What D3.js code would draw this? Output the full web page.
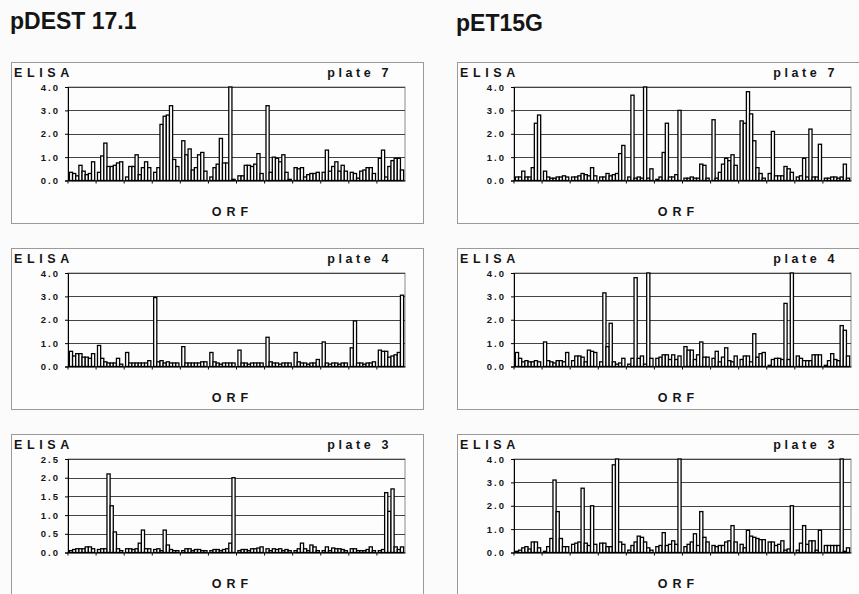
<!DOCTYPE html>
<html>
<head>
<meta charset="utf-8">
<script src="https://cdn.jsdelivr.net/npm/d3@7/dist/d3.min.js"></script>
<style>
  body { margin: 0; background: #fbfbfb; }
  text { font-family: "Liberation Sans", Arial, sans-serif; font-weight: bold; fill: #151515; }
</style>
</head>
<body>
<div id="chart"></div>
<script>
// Column titles, plate labels and well layout (12 columns x 8 rows per plate)
const columnTitles = ["pDEST 17.1", "pET15G"];
const plateLabels = ["plate 7", "plate 4", "plate 3"];
const wellColumns = ["1", "2", "3", "4", "5", "6", "7", "8", "9", "10", "11", "12"];
const wellRows = ["A", "B", "C", "D", "E", "F", "G", "H"];
const ticksTo4 = [0, 1, 2, 3, 4];
const ticksTo25 = [0, 0.5, 1, 1.5, 2, 2.5];

// ELISA readings, one inner array per plate column (rows A..H)
const pdestPlate7 = [
  [0.35, 0.3, 0.2, 0.65, 0.4, 0.25, 0.3, 0.8],
  [0.35, 1.05, 1.6, 0.6, 0.6, 0.65, 0.75, 0.8],
  [0.15, 0.6, 0.6, 1.1, 0.25, 0.55, 0.8, 0.55],
  [0.35, 0.55, 2.4, 2.75, 2.8, 3.2, 0.9, 0.6],
  [1.7, 1.1, 1.35, 0.45, 0.55, 1.1, 1.2, 0.4],
  [0.15, 0.55, 0.7, 1.8, 0.75, 0.75, 4.0, 0.05],
  [0.2, 0.2, 0.65, 0.65, 0.6, 0.7, 1.15, 0.3],
  [3.2, 0.35, 1.0, 0.95, 0.8, 1.1, 0.35, 0.05],
  [0.55, 0.5, 0.55, 0.15, 0.25, 0.3, 0.3, 0.35],
  [0.35, 1.3, 0.4, 0.6, 0.8, 0.4, 0.65, 0.4],
  [0.35, 0.3, 0.1, 0.4, 0.45, 0.55, 0.55, 0.3],
  [0.95, 1.3, 0.15, 0.6, 0.85, 0.95, 0.95, 0.45]
];
const petPlate7 = [
  [0.15, 0.15, 0.4, 0.15, 0.15, 0.55, 2.45, 2.8],
  [0.4, 0.15, 0.1, 0.1, 0.15, 0.15, 0.2, 0.15],
  [0.15, 0.15, 0.2, 0.3, 0.25, 0.2, 0.55, 0.2],
  [0.15, 0.15, 0.3, 0.2, 0.25, 0.3, 1.15, 1.5],
  [0.15, 3.65, 0.1, 0.15, 0.1, 4.0, 0.1, 0.5],
  [0.05, 0.15, 1.2, 2.45, 0.15, 0.15, 0.25, 3.0],
  [0.1, 0.1, 0.15, 0.1, 0.1, 0.7, 0.65, 0.1],
  [2.6, 0.1, 0.35, 0.7, 0.95, 0.85, 1.1, 0.65],
  [2.55, 2.45, 3.8, 2.85, 1.7, 0.55, 0.3, 0.1],
  [0.3, 2.1, 0.2, 0.2, 0.2, 0.6, 0.5, 0.35],
  [0.15, 0.2, 0.95, 0.15, 2.2, 0.15, 0.15, 1.55],
  [0.1, 0.1, 0.15, 0.15, 0.1, 0.15, 0.7, 0.1]
];
const pdestPlate4 = [
  [0.65, 0.45, 0.55, 0.55, 0.4, 0.4, 0.35, 0.55],
  [0.9, 0.35, 0.2, 0.15, 0.15, 0.15, 0.35, 0.1],
  [0.6, 0.15, 0.15, 0.15, 0.15, 0.15, 0.15, 0.25],
  [2.95, 0.2, 0.25, 0.15, 0.2, 0.15, 0.15, 0.15],
  [0.85, 0.15, 0.15, 0.15, 0.15, 0.15, 0.2, 0.2],
  [0.6, 0.2, 0.15, 0.1, 0.15, 0.15, 0.15, 0.15],
  [0.7, 0.15, 0.15, 0.1, 0.15, 0.15, 0.15, 0.15],
  [1.25, 0.2, 0.15, 0.15, 0.1, 0.15, 0.15, 0.15],
  [0.6, 0.2, 0.15, 0.15, 0.1, 0.15, 0.15, 0.3],
  [1.05, 0.15, 0.1, 0.15, 0.15, 0.1, 0.15, 0.15],
  [0.8, 1.95, 0.15, 0.15, 0.1, 0.15, 0.15, 0.2],
  [0.7, 0.65, 0.65, 0.4, 0.45, 0.5, 0.6, 3.05]
];
const petPlate4 = [
  [0.6, 0.35, 0.2, 0.25, 0.2, 0.2, 0.25, 0.2],
  [1.05, 0.25, 0.2, 0.15, 0.25, 0.25, 0.2, 0.6],
  [0.25, 0.45, 0.45, 0.4, 0.2, 0.7, 0.65, 0.6],
  [0.2, 3.15, 0.85, 1.85, 0.2, 0.1, 0.15, 0.35],
  [0.1, 0.35, 3.8, 0.35, 0.45, 0.1, 4.0, 0.35],
  [0.35, 0.4, 0.5, 0.5, 0.3, 0.5, 0.3, 0.45],
  [0.85, 0.7, 0.7, 0.3, 0.5, 1.05, 0.4, 0.4],
  [0.35, 0.65, 0.2, 0.4, 0.8, 0.25, 0.2, 0.45],
  [0.3, 0.45, 0.45, 0.2, 1.4, 0.4, 0.55, 0.6],
  [0.05, 0.3, 0.35, 0.35, 0.3, 2.7, 0.3, 4.0],
  [0.45, 0.35, 0.25, 0.25, 0.25, 0.5, 0.5, 0.5],
  [0.05, 0.25, 0.55, 0.3, 0.25, 1.75, 1.55, 0.45]
];
const pdestPlate3 = [
  [0.05, 0.08, 0.1, 0.1, 0.1, 0.15, 0.15, 0.1],
  [0.08, 0.1, 0.1, 2.1, 1.25, 0.55, 0.1, 0.05],
  [0.1, 0.1, 0.08, 0.1, 0.25, 0.6, 0.1, 0.1],
  [0.08, 0.1, 0.05, 0.6, 0.2, 0.08, 0.05, 0.05],
  [0.05, 0.1, 0.1, 0.05, 0.08, 0.08, 0.05, 0.05],
  [0.05, 0.08, 0.08, 0.05, 0.08, 0.1, 0.25, 2.0],
  [0.05, 0.08, 0.08, 0.05, 0.1, 0.1, 0.12, 0.15],
  [0.1, 0.05, 0.1, 0.08, 0.1, 0.05, 0.08, 0.05],
  [0.05, 0.1, 0.25, 0.1, 0.05, 0.2, 0.15, 0.05],
  [0.05, 0.15, 0.05, 0.12, 0.1, 0.1, 0.08, 0.05],
  [0.1, 0.1, 0.05, 0.05, 0.05, 0.08, 0.15, 0.05],
  [0.05, 0.08, 1.6, 1.1, 1.7, 0.15, 0.08, 0.15]
];
const petPlate3 = [
  [0.05, 0.1, 0.2, 0.25, 0.15, 0.45, 0.45, 0.2],
  [0.05, 0.25, 0.6, 3.1, 1.75, 0.6, 0.25, 0.25],
  [0.35, 0.4, 0.45, 2.75, 0.4, 0.3, 2.0, 0.35],
  [0.4, 0.4, 0.25, 0.25, 3.75, 4.0, 0.45, 0.35],
  [0.1, 0.3, 0.45, 0.7, 0.65, 0.45, 0.2, 0.1],
  [0.25, 0.3, 0.85, 0.3, 0.35, 0.5, 0.35, 4.0],
  [0.25, 0.35, 0.45, 0.8, 0.3, 1.75, 0.65, 0.45],
  [0.3, 0.25, 0.3, 0.3, 0.45, 0.5, 1.15, 0.45],
  [0.35, 0.2, 0.95, 0.7, 0.65, 0.6, 0.55, 0.55],
  [0.45, 0.45, 0.3, 0.35, 0.5, 0.1, 0.15, 2.0],
  [0.1, 0.4, 1.15, 0.35, 0.5, 0.5, 0.1, 0.95],
  [0.3, 0.3, 0.3, 0.3, 0.3, 4.0, 0.05, 0.2]
];

// Which plate goes where: column (vector), row (plate), values, y ticks
const panels = [
  { col: 0, row: 0, values: pdestPlate7, ticks: ticksTo4 },
  { col: 0, row: 1, values: pdestPlate4, ticks: ticksTo4 },
  { col: 0, row: 2, values: pdestPlate3, ticks: ticksTo25 },
  { col: 1, row: 0, values: petPlate7, ticks: ticksTo4 },
  { col: 1, row: 1, values: petPlate4, ticks: ticksTo4 },
  { col: 1, row: 2, values: petPlate3, ticks: ticksTo4 }
];

// Layout
const width = 859;
const height = 594;
const colX = [11, 457];
const rowY = [62, 248, 434];
const boxW = 412, boxH = 161;
const plotL = 57, plotT = 25, plotW = 337, plotH = 93.5;

const svg = d3.select("#chart")
  .append("svg")
  .attr("width", width)
  .attr("height", height);

// Column titles
columnTitles.forEach((t, i) => {
  svg.append("text")
    .attr("x", colX[i] - 1)
    .attr("y", i === 0 ? 29 : 31)
    .style("font-size", "23px")
    .text(t);
});

const x0 = d3.scaleBand()
  .domain(wellColumns)
  .range([0, plotW])
  .paddingInner(0.1)
  .paddingOuter(0.05);

const x1 = d3.scaleBand()
  .domain(wellRows)
  .range([0, x0.bandwidth()]);

panels.forEach((p) => {
  const g = svg.append("g")
    .attr("transform", `translate(${colX[p.col]},${rowY[p.row]})`);

  // Outer frame
  g.append("rect")
    .attr("x", 0.5).attr("y", 0.5)
    .attr("width", boxW).attr("height", boxH)
    .attr("fill", "#fdfdfd")
    .attr("stroke", "#9a9a9a");

  g.append("text")
    .attr("x", 3)
    .attr("y", 15)
    .style("font-size", "12.5px")
    .style("letter-spacing", "4.6px")
    .text("ELISA");

  g.append("text")
    .attr("x", 381)
    .attr("y", 15)
    .attr("text-anchor", "end")
    .style("font-size", "12.5px")
    .style("letter-spacing", "3.6px")
    .text(plateLabels[p.row]);

  g.append("text")
    .attr("x", plotL + plotW / 2 - 4)
    .attr("y", plotT + plotH + 35)
    .attr("text-anchor", "middle")
    .style("font-size", "12.5px")
    .style("letter-spacing", "5px")
    .text("ORF");

  const plot = g.append("g")
    .attr("transform", `translate(${plotL},${plotT})`);

  const y = d3.scaleLinear()
    .domain([0, d3.max(p.ticks)])
    .range([plotH, 0]);

  // Plot area border
  plot.append("rect")
    .attr("width", plotW).attr("height", plotH)
    .attr("fill", "none")
    .attr("stroke", "#8a8a8a");

  // Grid lines
  plot.append("g")
    .selectAll("line")
    .data(p.ticks.filter((d) => d > 0))
    .enter()
    .append("line")
    .attr("x1", 0).attr("x2", plotW)
    .attr("y1", (d) => Math.round(y(d)) + 0.5)
    .attr("y2", (d) => Math.round(y(d)) + 0.5)
    .attr("stroke", "#444")
    .attr("stroke-width", 1);

  // Bars
  plot.append("g")
    .selectAll("g")
    .data(p.values)
    .enter()
    .append("g")
    .attr("transform", (d, i) => `translate(${x0(wellColumns[i])},0)`)
    .selectAll("rect")
    .data((d) => d)
    .enter()
    .append("rect")
    .attr("x", (d, i) => x1(wellRows[i]))
    .attr("y", (d) => y(d))
    .attr("width", x1.bandwidth())
    .attr("height", (d) => y(0) - y(d))
    .attr("fill", "#fff")
    .attr("stroke", "#000")
    .attr("stroke-width", 1.3);

  // Y axis
  const yAxis = plot.append("g")
    .call(d3.axisLeft(y).tickValues(p.ticks).tickFormat(d3.format(".1f")).tickSize(3).tickPadding(5));
  yAxis.select(".domain").attr("stroke", "#000");
  yAxis.selectAll("text")
    .style("font-size", "9.5px")
    .style("letter-spacing", "2px")
    .attr("font-family", null);

  // X axis: baseline and ticks between plate columns
  const xAxis = plot.append("g")
    .attr("transform", `translate(0,${plotH})`)
    .call(d3.axisBottom(x0).tickFormat("").tickSize(0));
  xAxis.select(".domain").attr("stroke", "#000");
  xAxis.selectAll(".sep")
    .data(wellColumns)
    .enter()
    .append("line")
    .attr("class", "sep")
    .attr("x1", (d) => x0(d) - x0.step() * x0.paddingInner() / 2)
    .attr("x2", (d) => x0(d) - x0.step() * x0.paddingInner() / 2)
    .attr("y1", 0).attr("y2", 3)
    .attr("stroke", "#000");
});
</script>
</body>
</html>
